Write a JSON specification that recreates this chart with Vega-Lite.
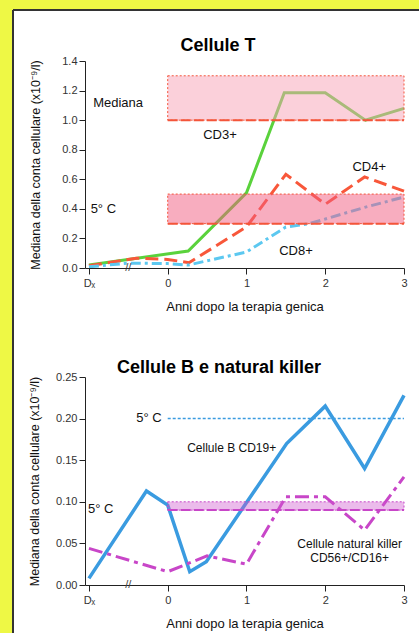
{
  "$schema": "https://vega.github.io/schema/vega-lite/v6.json",
  "background": "#eef845",
  "padding": {"left": 12, "top": 9, "right": 0, "bottom": 0},
  "bounds": "flush",
  "spacing": 109,
  "config": {
    "font": "Liberation Sans",
    "view": {"stroke": null},
    "axis": {
      "grid": false,
      "domainColor": "#222222", "tickColor": "#222222",
      "labelColor": "#333333", "labelFontSize": 11, "labelFont": "Liberation Sans",
      "titleFont": "Liberation Sans", "titleFontSize": 12.5, "titleFontWeight": "normal", "titleColor": "#111111",
      "labelFlush": false, "labelOverlap": false, "tickSize": 6, "labelPadding": 2
    },
    "text": {"font": "Liberation Sans"}
  },
  "datasets": {
    "one": [{"note": "frame"}],
    "ttitle": [{"text": "Cellule T", "x": 0.6386, "y": 1.471}],
    "btitle": [{"text": "Cellule B e natural killer", "x": 0.651, "y": 0.2544}],
    "tcells": [
      {"series": "CD3+", "x": -1, "y": 0.02},
      {"series": "CD3+", "x": 0.26, "y": 0.115},
      {"series": "CD3+", "x": 1, "y": 0.508},
      {"series": "CD3+", "x": 1.48, "y": 1.185},
      {"series": "CD3+", "x": 2, "y": 1.185},
      {"series": "CD3+", "x": 2.51, "y": 1.0},
      {"series": "CD3+", "x": 3, "y": 1.08},
      {"series": "CD4+", "x": -1, "y": 0.015},
      {"series": "CD4+", "x": -0.4, "y": 0.066},
      {"series": "CD4+", "x": 0, "y": 0.058},
      {"series": "CD4+", "x": 0.27, "y": 0.036},
      {"series": "CD4+", "x": 1, "y": 0.278},
      {"series": "CD4+", "x": 1.5, "y": 0.634},
      {"series": "CD4+", "x": 2, "y": 0.431},
      {"series": "CD4+", "x": 2.5, "y": 0.616},
      {"series": "CD4+", "x": 3, "y": 0.52},
      {"series": "CD8+", "x": -1, "y": 0.008},
      {"series": "CD8+", "x": -0.5, "y": 0.033},
      {"series": "CD8+", "x": 0, "y": 0.03},
      {"series": "CD8+", "x": 0.26, "y": 0.02},
      {"series": "CD8+", "x": 1, "y": 0.108},
      {"series": "CD8+", "x": 1.5, "y": 0.277},
      {"series": "CD8+", "x": 1.8, "y": 0.3},
      {"series": "CD8+", "x": 2.5, "y": 0.41},
      {"series": "CD8+", "x": 3, "y": 0.48}
    ],
    "tbands": [
      {"band": "Mediana", "x0": 0, "x1": 3, "lo": 1.0, "hi": 1.3},
      {"band": "5° C", "x0": 0, "x1": 3, "lo": 0.3, "hi": 0.5}
    ],
    "tlabels": [
      {"text": "Mediana", "x": -0.63, "y": 1.116},
      {"text": "CD3+", "x": 0.664, "y": 0.9},
      {"text": "CD4+", "x": 2.559, "y": 0.685},
      {"text": "5° C", "x": -0.817, "y": 0.397},
      {"text": "CD8+", "x": 1.629, "y": 0.117}
    ],
    "bcells": [
      {"series": "Cellule B CD19+", "x": -1, "y": 0.008},
      {"series": "Cellule B CD19+", "x": -0.27, "y": 0.113},
      {"series": "Cellule B CD19+", "x": 0, "y": 0.096},
      {"series": "Cellule B CD19+", "x": 0.28, "y": 0.016},
      {"series": "Cellule B CD19+", "x": 0.49, "y": 0.028},
      {"series": "Cellule B CD19+", "x": 1.51, "y": 0.17},
      {"series": "Cellule B CD19+", "x": 2, "y": 0.215},
      {"series": "Cellule B CD19+", "x": 2.5, "y": 0.14},
      {"series": "Cellule B CD19+", "x": 3, "y": 0.228},
      {"series": "NK CD56+/CD16+", "x": -1, "y": 0.044},
      {"series": "NK CD56+/CD16+", "x": 0, "y": 0.016},
      {"series": "NK CD56+/CD16+", "x": 0.5, "y": 0.035},
      {"series": "NK CD56+/CD16+", "x": 1, "y": 0.025},
      {"series": "NK CD56+/CD16+", "x": 1.5, "y": 0.106},
      {"series": "NK CD56+/CD16+", "x": 2, "y": 0.106},
      {"series": "NK CD56+/CD16+", "x": 2.5, "y": 0.066},
      {"series": "NK CD56+/CD16+", "x": 3, "y": 0.13}
    ],
    "bbands": [
      {"band": "5° C NK", "x0": 0, "x1": 3, "lo": 0.09, "hi": 0.1}
    ],
    "brefs": [
      {"ref": "5° C B", "x0": 0, "x1": 3, "y": 0.2}
    ],
    "blabels": [
      {"text": "5° C", "x": -0.2375, "y": 0.2003},
      {"text": "5° C", "x": -0.851, "y": 0.0913},
      {"text": "Cellule B CD19+", "x": 0.812, "y": 0.1643},
      {"text": "Cellule natural killer", "x": 2.31, "y": 0.0489},
      {"text": "CD56+/CD16+", "x": 2.31, "y": 0.0321}
    ]
  },
  "vconcat": [
    {
      "width": 319, "height": 207,
      "layer": [
        {
          "data": {"name": "one"},
          "mark": {"type": "rect", "fill": "#ffffff"},
          "encoding": {
            "x": {"datum": -1.9641, "type": "quantitative", "scale": {"domain": [-1.05, 3], "nice": false}, "title": "Anni dopo la terapia genica",
              "axis": {"zindex": 1, "values": [-1, 0, 1, 2, 3], "labelExpr": "datum.value == -1 ? 'Dₓ' : format(datum.value, 'd')", "titleFontSize": 13, "titlePadding": 12, "labelPadding": 3, "labelOverlap": false}},
            "x2": {"datum": 3.1904},
            "y": {"datum": 1.7449, "type": "quantitative", "scale": {"domain": [0, 1.4], "nice": false}, "title": "Mediana della conta cellulare (x10⁻⁹/l)",
              "axis": {"zindex": 1, "values": [0, 0.2, 0.4, 0.6, 0.8, 1.0, 1.2, 1.4], "format": ".1f", "titlePadding": 19, "labelOverlap": false}},
            "y2": {"datum": -2.4686}
          }
        },
        {
          "data": {"name": "one"},
          "mark": {"type": "rule", "color": "#333333", "strokeWidth": 2},
          "encoding": {
            "x": {"datum": -1.9641, "type": "quantitative", "scale": {"domain": [-1.05, 3], "nice": false}, "title": "Anni dopo la terapia genica",
              "axis": {"zindex": 1, "values": [-1, 0, 1, 2, 3], "labelExpr": "datum.value == -1 ? 'Dₓ' : format(datum.value, 'd')", "titleFontSize": 13, "titlePadding": 12, "labelPadding": 3, "labelOverlap": false}},
            "y": {"datum": 1.7449, "type": "quantitative", "scale": {"domain": [0, 1.4], "nice": false}, "title": "Mediana della conta cellulare (x10⁻⁹/l)",
              "axis": {"zindex": 1, "values": [0, 0.2, 0.4, 0.6, 0.8, 1.0, 1.2, 1.4], "format": ".1f", "titlePadding": 19, "labelOverlap": false}},
            "y2": {"datum": -2.4686}
          }
        },
        {
          "data": {"name": "one"},
          "mark": {"type": "rule", "color": "#333333", "strokeWidth": 2},
          "encoding": {
            "x": {"datum": -1.9641, "type": "quantitative", "scale": {"domain": [-1.05, 3], "nice": false}, "title": "Anni dopo la terapia genica",
              "axis": {"zindex": 1, "values": [-1, 0, 1, 2, 3], "labelExpr": "datum.value == -1 ? 'Dₓ' : format(datum.value, 'd')", "titleFontSize": 13, "titlePadding": 12, "labelPadding": 3, "labelOverlap": false}},
            "x2": {"datum": 3.1904},
            "y": {"datum": 1.7449, "type": "quantitative", "scale": {"domain": [0, 1.4], "nice": false}, "title": "Mediana della conta cellulare (x10⁻⁹/l)",
              "axis": {"zindex": 1, "values": [0, 0.2, 0.4, 0.6, 0.8, 1.0, 1.2, 1.4], "format": ".1f", "titlePadding": 19, "labelOverlap": false}}
          }
        },
        {
          "data": {"name": "tcells"},
          "transform": [{"filter": "datum.series == 'CD3+'"}],
          "mark": {"type": "line", "color": "#5ad23c", "strokeWidth": 3},
          "encoding": {
            "x": {"field": "x", "type": "quantitative", "scale": {"domain": [-1.05, 3], "nice": false}, "title": "Anni dopo la terapia genica",
              "axis": {"zindex": 1, "values": [-1, 0, 1, 2, 3], "labelExpr": "datum.value == -1 ? 'Dₓ' : format(datum.value, 'd')", "titleFontSize": 13, "titlePadding": 12, "labelPadding": 3, "labelOverlap": false}},
            "y": {"field": "y", "type": "quantitative", "scale": {"domain": [0, 1.4], "nice": false}, "title": "Mediana della conta cellulare (x10⁻⁹/l)",
              "axis": {"zindex": 1, "values": [0, 0.2, 0.4, 0.6, 0.8, 1.0, 1.2, 1.4], "format": ".1f", "titlePadding": 19, "labelOverlap": false}}
          }
        },
        {
          "data": {"name": "tcells"},
          "transform": [{"filter": "datum.series == 'CD4+'"}],
          "mark": {"type": "line", "color": "#f8573a", "strokeWidth": 3, "strokeDash": [13, 6]},
          "encoding": {
            "x": {"field": "x", "type": "quantitative", "scale": {"domain": [-1.05, 3], "nice": false}, "title": "Anni dopo la terapia genica",
              "axis": {"zindex": 1, "values": [-1, 0, 1, 2, 3], "labelExpr": "datum.value == -1 ? 'Dₓ' : format(datum.value, 'd')", "titleFontSize": 13, "titlePadding": 12, "labelPadding": 3, "labelOverlap": false}},
            "y": {"field": "y", "type": "quantitative", "scale": {"domain": [0, 1.4], "nice": false}, "title": "Mediana della conta cellulare (x10⁻⁹/l)",
              "axis": {"zindex": 1, "values": [0, 0.2, 0.4, 0.6, 0.8, 1.0, 1.2, 1.4], "format": ".1f", "titlePadding": 19, "labelOverlap": false}}
          }
        },
        {
          "data": {"name": "tcells"},
          "transform": [{"filter": "datum.series == 'CD8+'"}],
          "mark": {"type": "line", "color": "#5cc8f0", "strokeWidth": 3, "strokeDash": [10, 4, 3, 4]},
          "encoding": {
            "x": {"field": "x", "type": "quantitative", "scale": {"domain": [-1.05, 3], "nice": false}, "title": "Anni dopo la terapia genica",
              "axis": {"zindex": 1, "values": [-1, 0, 1, 2, 3], "labelExpr": "datum.value == -1 ? 'Dₓ' : format(datum.value, 'd')", "titleFontSize": 13, "titlePadding": 12, "labelPadding": 3, "labelOverlap": false}},
            "y": {"field": "y", "type": "quantitative", "scale": {"domain": [0, 1.4], "nice": false}, "title": "Mediana della conta cellulare (x10⁻⁹/l)",
              "axis": {"zindex": 1, "values": [0, 0.2, 0.4, 0.6, 0.8, 1.0, 1.2, 1.4], "format": ".1f", "titlePadding": 19, "labelOverlap": false}}
          }
        },
        {
          "data": {"name": "tbands"},
          "transform": [{"filter": "datum.band == 'Mediana'"}],
          "mark": {"type": "rect", "fill": "#f7a1b5", "fillOpacity": 0.5, "stroke": "#f4553a", "strokeWidth": 1, "strokeDash": [2, 2]},
          "encoding": {
            "x": {"field": "x0", "type": "quantitative", "scale": {"domain": [-1.05, 3], "nice": false}, "title": "Anni dopo la terapia genica",
              "axis": {"zindex": 1, "values": [-1, 0, 1, 2, 3], "labelExpr": "datum.value == -1 ? 'Dₓ' : format(datum.value, 'd')", "titleFontSize": 13, "titlePadding": 12, "labelPadding": 3, "labelOverlap": false}},
            "x2": {"field": "x1"},
            "y": {"field": "lo", "type": "quantitative", "scale": {"domain": [0, 1.4], "nice": false}, "title": "Mediana della conta cellulare (x10⁻⁹/l)",
              "axis": {"zindex": 1, "values": [0, 0.2, 0.4, 0.6, 0.8, 1.0, 1.2, 1.4], "format": ".1f", "titlePadding": 19, "labelOverlap": false}},
            "y2": {"field": "hi"}
          }
        },
        {
          "data": {"name": "tbands"},
          "transform": [{"filter": "datum.band == '5° C'"}],
          "mark": {"type": "rect", "fill": "#f25c80", "fillOpacity": 0.5, "stroke": "#f4553a", "strokeWidth": 1, "strokeDash": [2, 2]},
          "encoding": {
            "x": {"field": "x0", "type": "quantitative", "scale": {"domain": [-1.05, 3], "nice": false}, "title": "Anni dopo la terapia genica",
              "axis": {"zindex": 1, "values": [-1, 0, 1, 2, 3], "labelExpr": "datum.value == -1 ? 'Dₓ' : format(datum.value, 'd')", "titleFontSize": 13, "titlePadding": 12, "labelPadding": 3, "labelOverlap": false}},
            "x2": {"field": "x1"},
            "y": {"field": "lo", "type": "quantitative", "scale": {"domain": [0, 1.4], "nice": false}, "title": "Mediana della conta cellulare (x10⁻⁹/l)",
              "axis": {"zindex": 1, "values": [0, 0.2, 0.4, 0.6, 0.8, 1.0, 1.2, 1.4], "format": ".1f", "titlePadding": 19, "labelOverlap": false}},
            "y2": {"field": "hi"}
          }
        },
        {
          "data": {"name": "tbands"},
          "mark": {"type": "rule", "color": "#f4553a", "strokeWidth": 2, "strokeDash": [10, 3]},
          "encoding": {
            "x": {"field": "x0", "type": "quantitative", "scale": {"domain": [-1.05, 3], "nice": false}, "title": "Anni dopo la terapia genica",
              "axis": {"zindex": 1, "values": [-1, 0, 1, 2, 3], "labelExpr": "datum.value == -1 ? 'Dₓ' : format(datum.value, 'd')", "titleFontSize": 13, "titlePadding": 12, "labelPadding": 3, "labelOverlap": false}},
            "x2": {"field": "x1"},
            "y": {"field": "lo", "type": "quantitative", "scale": {"domain": [0, 1.4], "nice": false}, "title": "Mediana della conta cellulare (x10⁻⁹/l)",
              "axis": {"zindex": 1, "values": [0, 0.2, 0.4, 0.6, 0.8, 1.0, 1.2, 1.4], "format": ".1f", "titlePadding": 19, "labelOverlap": false}}
          }
        },
        {
          "data": {"name": "one"},
          "mark": {"type": "text", "text": "//", "fontSize": 11, "color": "#444444", "baseline": "middle", "align": "center"},
          "encoding": {
            "x": {"datum": -0.5, "type": "quantitative", "scale": {"domain": [-1.05, 3], "nice": false}, "title": "Anni dopo la terapia genica",
              "axis": {"zindex": 1, "values": [-1, 0, 1, 2, 3], "labelExpr": "datum.value == -1 ? 'Dₓ' : format(datum.value, 'd')", "titleFontSize": 13, "titlePadding": 12, "labelPadding": 3, "labelOverlap": false}},
            "y": {"datum": 0, "type": "quantitative", "scale": {"domain": [0, 1.4], "nice": false}, "title": "Mediana della conta cellulare (x10⁻⁹/l)",
              "axis": {"zindex": 1, "values": [0, 0.2, 0.4, 0.6, 0.8, 1.0, 1.2, 1.4], "format": ".1f", "titlePadding": 19, "labelOverlap": false}}
          }
        },
        {
          "data": {"name": "tlabels"},
          "mark": {"type": "text", "fontSize": 13, "color": "#111111", "align": "center", "baseline": "middle"},
          "encoding": {
            "x": {"field": "x", "type": "quantitative", "scale": {"domain": [-1.05, 3], "nice": false}, "title": "Anni dopo la terapia genica",
              "axis": {"zindex": 1, "values": [-1, 0, 1, 2, 3], "labelExpr": "datum.value == -1 ? 'Dₓ' : format(datum.value, 'd')", "titleFontSize": 13, "titlePadding": 12, "labelPadding": 3, "labelOverlap": false}},
            "y": {"field": "y", "type": "quantitative", "scale": {"domain": [0, 1.4], "nice": false}, "title": "Mediana della conta cellulare (x10⁻⁹/l)",
              "axis": {"zindex": 1, "values": [0, 0.2, 0.4, 0.6, 0.8, 1.0, 1.2, 1.4], "format": ".1f", "titlePadding": 19, "labelOverlap": false}},
            "text": {"field": "text"}
          }
        },
        {
          "data": {"name": "ttitle"},
          "mark": {"type": "text", "fontSize": 18, "fontWeight": "bold", "color": "#000000", "align": "center", "baseline": "alphabetic"},
          "encoding": {
            "x": {"field": "x", "type": "quantitative", "scale": {"domain": [-1.05, 3], "nice": false}, "title": "Anni dopo la terapia genica",
              "axis": {"zindex": 1, "values": [-1, 0, 1, 2, 3], "labelExpr": "datum.value == -1 ? 'Dₓ' : format(datum.value, 'd')", "titleFontSize": 13, "titlePadding": 12, "labelPadding": 3, "labelOverlap": false}},
            "y": {"field": "y", "type": "quantitative", "scale": {"domain": [0, 1.4], "nice": false}, "title": "Mediana della conta cellulare (x10⁻⁹/l)",
              "axis": {"zindex": 1, "values": [0, 0.2, 0.4, 0.6, 0.8, 1.0, 1.2, 1.4], "format": ".1f", "titlePadding": 19, "labelOverlap": false}},
            "text": {"field": "text"}
          }
        }
      ]
    },
    {
      "width": 319, "height": 208,
      "layer": [
        {
          "data": {"name": "bcells"},
          "transform": [{"filter": "datum.series == 'Cellule B CD19+'"}],
          "mark": {"type": "line", "color": "#3a9be0", "strokeWidth": 3.5},
          "encoding": {
            "x": {"field": "x", "type": "quantitative", "scale": {"domain": [-1.05, 3], "nice": false}, "title": "Anni dopo la terapia genica",
              "axis": {"values": [-1, 0, 1, 2, 3], "labelExpr": "datum.value == -1 ? 'Dₓ' : format(datum.value, 'd')", "titleFontSize": 13, "titlePadding": 12, "labelPadding": 3, "labelOverlap": false}},
            "y": {"field": "y", "type": "quantitative", "scale": {"domain": [0, 0.25], "nice": false}, "title": "Mediana della conta cellulare (x10⁻⁹/l)",
              "axis": {"values": [0, 0.05, 0.1, 0.15, 0.2, 0.25], "format": ".2f", "titlePadding": 14, "labelOverlap": false}}
          }
        },
        {
          "data": {"name": "bcells"},
          "transform": [{"filter": "datum.series == 'NK CD56+/CD16+'"}],
          "mark": {"type": "line", "color": "#c846c8", "strokeWidth": 3, "strokeDash": [14, 5, 4, 5]},
          "encoding": {
            "x": {"field": "x", "type": "quantitative", "scale": {"domain": [-1.05, 3], "nice": false}, "title": "Anni dopo la terapia genica",
              "axis": {"values": [-1, 0, 1, 2, 3], "labelExpr": "datum.value == -1 ? 'Dₓ' : format(datum.value, 'd')", "titleFontSize": 13, "titlePadding": 12, "labelPadding": 3, "labelOverlap": false}},
            "y": {"field": "y", "type": "quantitative", "scale": {"domain": [0, 0.25], "nice": false}, "title": "Mediana della conta cellulare (x10⁻⁹/l)",
              "axis": {"values": [0, 0.05, 0.1, 0.15, 0.2, 0.25], "format": ".2f", "titlePadding": 14, "labelOverlap": false}}
          }
        },
        {
          "data": {"name": "bbands"},
          "mark": {"type": "rect", "fill": "#cc55cc", "fillOpacity": 0.4, "stroke": "#c846c8", "strokeWidth": 1, "strokeDash": [2, 2]},
          "encoding": {
            "x": {"field": "x0", "type": "quantitative", "scale": {"domain": [-1.05, 3], "nice": false}, "title": "Anni dopo la terapia genica",
              "axis": {"values": [-1, 0, 1, 2, 3], "labelExpr": "datum.value == -1 ? 'Dₓ' : format(datum.value, 'd')", "titleFontSize": 13, "titlePadding": 12, "labelPadding": 3, "labelOverlap": false}},
            "x2": {"field": "x1"},
            "y": {"field": "lo", "type": "quantitative", "scale": {"domain": [0, 0.25], "nice": false}, "title": "Mediana della conta cellulare (x10⁻⁹/l)",
              "axis": {"values": [0, 0.05, 0.1, 0.15, 0.2, 0.25], "format": ".2f", "titlePadding": 14, "labelOverlap": false}},
            "y2": {"field": "hi"}
          }
        },
        {
          "data": {"name": "bbands"},
          "mark": {"type": "rule", "color": "#c846c8", "strokeWidth": 2, "strokeDash": [10, 3]},
          "encoding": {
            "x": {"field": "x0", "type": "quantitative", "scale": {"domain": [-1.05, 3], "nice": false}, "title": "Anni dopo la terapia genica",
              "axis": {"values": [-1, 0, 1, 2, 3], "labelExpr": "datum.value == -1 ? 'Dₓ' : format(datum.value, 'd')", "titleFontSize": 13, "titlePadding": 12, "labelPadding": 3, "labelOverlap": false}},
            "x2": {"field": "x1"},
            "y": {"field": "lo", "type": "quantitative", "scale": {"domain": [0, 0.25], "nice": false}, "title": "Mediana della conta cellulare (x10⁻⁹/l)",
              "axis": {"values": [0, 0.05, 0.1, 0.15, 0.2, 0.25], "format": ".2f", "titlePadding": 14, "labelOverlap": false}}
          }
        },
        {
          "data": {"name": "brefs"},
          "mark": {"type": "rule", "color": "#3a9be0", "strokeWidth": 1.5, "strokeDash": [3, 2]},
          "encoding": {
            "x": {"field": "x0", "type": "quantitative", "scale": {"domain": [-1.05, 3], "nice": false}, "title": "Anni dopo la terapia genica",
              "axis": {"values": [-1, 0, 1, 2, 3], "labelExpr": "datum.value == -1 ? 'Dₓ' : format(datum.value, 'd')", "titleFontSize": 13, "titlePadding": 12, "labelPadding": 3, "labelOverlap": false}},
            "x2": {"field": "x1"},
            "y": {"field": "y", "type": "quantitative", "scale": {"domain": [0, 0.25], "nice": false}, "title": "Mediana della conta cellulare (x10⁻⁹/l)",
              "axis": {"values": [0, 0.05, 0.1, 0.15, 0.2, 0.25], "format": ".2f", "titlePadding": 14, "labelOverlap": false}}
          }
        },
        {
          "data": {"name": "one"},
          "mark": {"type": "text", "text": "//", "fontSize": 11, "color": "#444444", "baseline": "middle", "align": "center"},
          "encoding": {
            "x": {"datum": -0.5, "type": "quantitative", "scale": {"domain": [-1.05, 3], "nice": false}, "title": "Anni dopo la terapia genica",
              "axis": {"values": [-1, 0, 1, 2, 3], "labelExpr": "datum.value == -1 ? 'Dₓ' : format(datum.value, 'd')", "titleFontSize": 13, "titlePadding": 12, "labelPadding": 3, "labelOverlap": false}},
            "y": {"datum": 0, "type": "quantitative", "scale": {"domain": [0, 0.25], "nice": false}, "title": "Mediana della conta cellulare (x10⁻⁹/l)",
              "axis": {"values": [0, 0.05, 0.1, 0.15, 0.2, 0.25], "format": ".2f", "titlePadding": 14, "labelOverlap": false}}
          }
        },
        {
          "data": {"name": "blabels"},
          "transform": [{"filter": "datum.text == '5° C'"}],
          "mark": {"type": "text", "fontSize": 13, "color": "#111111", "align": "center", "baseline": "middle"},
          "encoding": {
            "x": {"field": "x", "type": "quantitative", "scale": {"domain": [-1.05, 3], "nice": false}, "title": "Anni dopo la terapia genica",
              "axis": {"values": [-1, 0, 1, 2, 3], "labelExpr": "datum.value == -1 ? 'Dₓ' : format(datum.value, 'd')", "titleFontSize": 13, "titlePadding": 12, "labelPadding": 3, "labelOverlap": false}},
            "y": {"field": "y", "type": "quantitative", "scale": {"domain": [0, 0.25], "nice": false}, "title": "Mediana della conta cellulare (x10⁻⁹/l)",
              "axis": {"values": [0, 0.05, 0.1, 0.15, 0.2, 0.25], "format": ".2f", "titlePadding": 14, "labelOverlap": false}},
            "text": {"field": "text"}
          }
        },
        {
          "data": {"name": "blabels"},
          "transform": [{"filter": "datum.text != '5° C'"}],
          "mark": {"type": "text", "fontSize": 12, "color": "#111111", "align": "center", "baseline": "middle"},
          "encoding": {
            "x": {"field": "x", "type": "quantitative", "scale": {"domain": [-1.05, 3], "nice": false}, "title": "Anni dopo la terapia genica",
              "axis": {"values": [-1, 0, 1, 2, 3], "labelExpr": "datum.value == -1 ? 'Dₓ' : format(datum.value, 'd')", "titleFontSize": 13, "titlePadding": 12, "labelPadding": 3, "labelOverlap": false}},
            "y": {"field": "y", "type": "quantitative", "scale": {"domain": [0, 0.25], "nice": false}, "title": "Mediana della conta cellulare (x10⁻⁹/l)",
              "axis": {"values": [0, 0.05, 0.1, 0.15, 0.2, 0.25], "format": ".2f", "titlePadding": 14, "labelOverlap": false}},
            "text": {"field": "text"}
          }
        },
        {
          "data": {"name": "btitle"},
          "mark": {"type": "text", "fontSize": 18, "fontWeight": "bold", "color": "#000000", "align": "center", "baseline": "alphabetic"},
          "encoding": {
            "x": {"field": "x", "type": "quantitative", "scale": {"domain": [-1.05, 3], "nice": false}, "title": "Anni dopo la terapia genica",
              "axis": {"values": [-1, 0, 1, 2, 3], "labelExpr": "datum.value == -1 ? 'Dₓ' : format(datum.value, 'd')", "titleFontSize": 13, "titlePadding": 12, "labelPadding": 3, "labelOverlap": false}},
            "y": {"field": "y", "type": "quantitative", "scale": {"domain": [0, 0.25], "nice": false}, "title": "Mediana della conta cellulare (x10⁻⁹/l)",
              "axis": {"values": [0, 0.05, 0.1, 0.15, 0.2, 0.25], "format": ".2f", "titlePadding": 14, "labelOverlap": false}},
            "text": {"field": "text"}
          }
        }
      ]
    }
  ]
}
